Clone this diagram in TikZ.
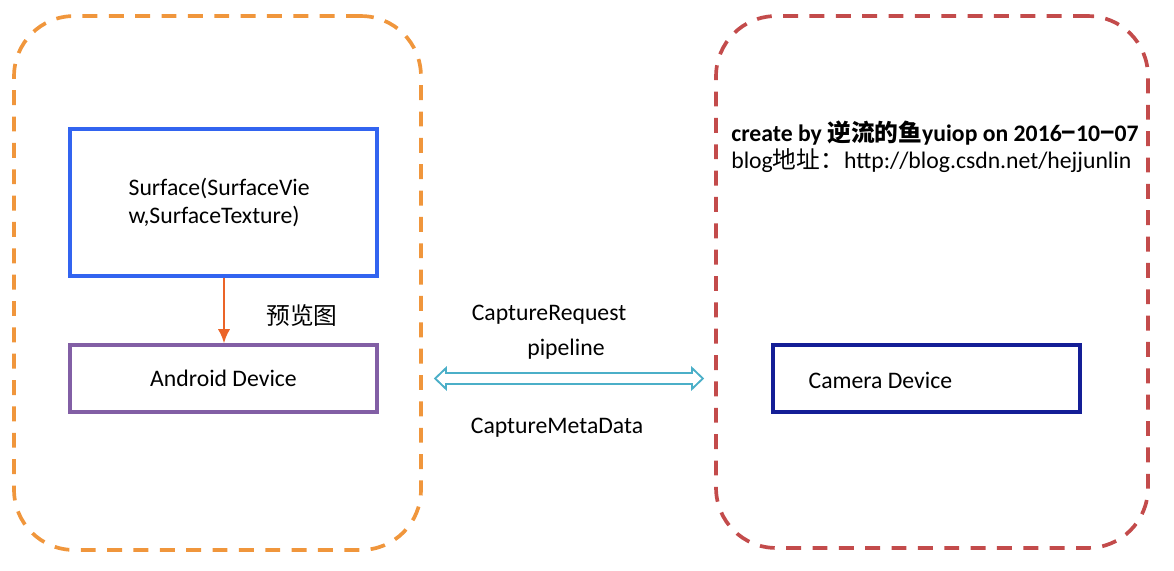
\documentclass[tikz,border=0pt]{standalone}
\usepackage{fontspec}
\setmainfont{Carlito}
\newfontfamily\cjk{Noto Sans CJK SC}
\usetikzlibrary{positioning, arrows.meta}
\usetikzlibrary{calc}

\definecolor{frameorange}{RGB}{240,150,60}
\definecolor{framered}{RGB}{195,75,75}
\definecolor{surfblue}{RGB}{50,100,240}
\definecolor{devpurple}{RGB}{130,95,165}
\definecolor{camblue}{RGB}{20,30,150}
\definecolor{arrorange}{RGB}{235,100,40}
\definecolor{pipecyan}{RGB}{75,175,200}

\begin{document}
\begin{tikzpicture}[
      x=0.02cm, y=-0.02cm,
      font=\fontsize{13.5}{15.5}\selectfont,
      frame/.style={rectangle, draw, line width=2.1pt, dash pattern=on 8.5pt off 6.5pt, rounded corners=1.2cm},
      block/.style={rectangle, draw, line width=2pt, minimum width=6.14cm},
      arrow/.style={-{Latex[length=8pt, width=7pt]}, line width=1.2pt, arrorange},
      pipeouter/.style={{Triangle[length=7.4pt, width=14.2pt, line width=0pt]}-{Triangle[length=7.4pt, width=14.2pt, line width=0pt]}, line width=7.9pt, pipecyan},
      pipeinner/.style={{Triangle[length=4.6pt, width=8.8pt, line width=0pt]}-{Triangle[length=4.6pt, width=8.8pt, line width=0pt]}, line width=5.6pt, white, shorten <=1.65pt, shorten >=1.65pt}
    ]
      \useasboundingbox (0,0) rectangle (1174,571);

      % Frames
      \node[frame, frameorange, minimum width=8.14cm, minimum height=10.68cm] (app) at (217.5,283) {};
      \node[frame, framered, minimum width=8.64cm, minimum height=10.64cm] (camera) at (932,282) {};

      % Nodes
      \node[block, surfblue, minimum height=2.94cm] (surface) at (223.5,202.5) {};
      \node[anchor=west, align=left, inner sep=0pt] (surftext) at ($(surface.west)+(60,0)$) {Surface(SurfaceVie\\w,SurfaceTexture)};
      \node[block, devpurple, minimum height=1.34cm, text=black] (android) at (223.5,378.5) {\raisebox{-0.04cm}{Android Device}};
      \node[block, camblue, minimum height=1.34cm] (camdev) at (926.5,378.5) {};
      \node[anchor=west, inner sep=0pt] (camtext) at ($(camdev.west)+(37,2)$) {Camera Device};

      % Arrows
      \draw[arrow] (surface.south -| 224,0) -- (android.north -| 224,0);
      \node (preview) at (302,315) {\cjk 预览图};
      \coordinate (pipel) at ($(app.east |- android)+(11,0)$);
      \coordinate (piper) at ($(camera.west |- android)+(-10,0)$);
      \draw[pipeouter] (pipel) -- (piper);
      \draw[pipeinner] (pipel) -- (piper);

      % Labels
      \node (request) at (549,315) {CaptureRequest};
      \node (pipeline) at (566,349) {pipeline};
      \node (meta) at (557,428) {CaptureMetaData};
      \node[anchor=west, align=left, inner sep=0pt] (credit) at (731,147) {\textbf{create by {\cjk 逆流的鱼}yuiop on 2016{\cjk −}10{\cjk −}07}\\blog{\cjk 地址：}http://blog.csdn.net/hejjunlin};

    \end{tikzpicture}
\end{document}
